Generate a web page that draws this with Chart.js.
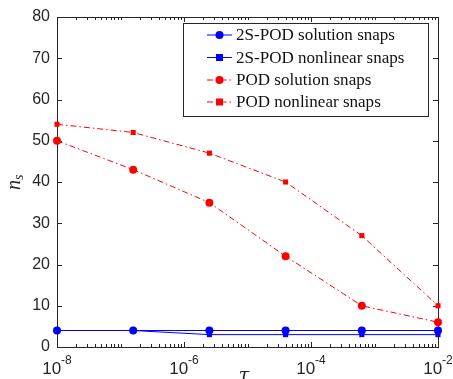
<!DOCTYPE html>
<html><head><meta charset="utf-8">
<script src="https://cdn.jsdelivr.net/npm/chart.js@4"></script>
<style>html,body{margin:0;padding:0;background:#fff}#wrap{width:453px;height:379px}</style>
</head><body><div id="wrap"><canvas id="c" width="453" height="379"></canvas></div>
<script>
const tauValues = [1e-8, 1.585e-7, 2.512e-6, 3.981e-5, 6.31e-4, 1e-2];
const pod2sSolution = [4, 4, 4, 4, 4, 4];
const pod2sNonlinear = [4, 4, 3, 3, 3, 3];
const podSolution = [50, 43, 35, 22, 10, 6];
const podNonlinear = [54, 52, 47, 40, 27, 10];
const seriesLabels = ['2S-POD solution snaps', '2S-POD nonlinear snaps', 'POD solution snaps', 'POD nonlinear snaps'];
const xTickExponents = [-8, -6, -4, -2];
const yTickValues = [0, 10, 20, 30, 40, 50, 60, 70, 80];

const BLUE = '#0000ff', RED = '#ff0000', AX = '#262626';
const DASHDOT = [6, 3, 1.5, 3];
const toPts = arr => arr.map((v, i) => ({x: tauValues[i], y: v}));

const mk = (label, vals, color, shape, dash, r) => ({
  label, data: toPts(vals), borderColor: color, backgroundColor: color,
  borderWidth: 1, borderDash: dash, pointStyle: shape, pointRadius: r,
  pointBorderWidth: 0, tension: 0, clip: false
});

const datasets = [
  mk(seriesLabels[3], podNonlinear, RED, 'rect', DASHDOT, 3.6),
  mk(seriesLabels[2], podSolution, RED, 'circle', DASHDOT, 4),
  mk(seriesLabels[1], pod2sNonlinear, BLUE, 'rect', [], 3.6),
  mk(seriesLabels[0], pod2sSolution, BLUE, 'circle', [], 4)
];
const legendOrder = [3, 2, 1, 0];

const SANS = '"Liberation Sans", Arial, sans-serif';
const SERIF = '"Liberation Serif", "Times New Roman", serif';

const deco = {
  id: 'deco',
  beforeDatasetsDraw(chart) {
    const ctx = chart.ctx, a = chart.chartArea, xs = chart.scales.x, ys = chart.scales.y;
    ctx.save();
    ctx.strokeStyle = AX; ctx.lineWidth = 1;
    ctx.strokeRect(Math.round(a.left) + 0.5, Math.round(a.top) + 0.5, Math.round(a.right - a.left), Math.round(a.bottom - a.top));
    ctx.beginPath();
    for (let k = -8; k <= -2; k++) {
      for (let m = 1; m <= 9; m++) {
        const v = m * Math.pow(10, k);
        if (v > 1.0001e-2) break;
        const px = Math.round(xs.getPixelForValue(v)) + 0.5;
        const len = (m === 1) ? (k % 2 === 0 ? 5 : 3) : 3;
        ctx.moveTo(px, a.bottom); ctx.lineTo(px, a.bottom - len);
        ctx.moveTo(px, a.top); ctx.lineTo(px, a.top + len);
      }
    }
    yTickValues.forEach(v => {
      const py = Math.round(ys.getPixelForValue(v)) + 0.5;
      ctx.moveTo(a.left, py); ctx.lineTo(a.left + 5, py);
      ctx.moveTo(a.right, py); ctx.lineTo(a.right - 5, py);
    });
    ctx.stroke();
    // x tick labels
    ctx.fillStyle = AX;
    xTickExponents.forEach(e => {
      const px = xs.getPixelForValue(Math.pow(10, e));
      ctx.font = '17px ' + SANS;
      const w1 = ctx.measureText('10').width;
      ctx.font = '12px ' + SANS;
      const sup = '-' + Math.abs(e);
      const w2 = ctx.measureText(sup).width;
      const x0 = px - (w1 + w2) / 2;
      ctx.textAlign = 'left'; ctx.textBaseline = 'alphabetic';
      ctx.font = '17px ' + SANS;
      ctx.fillText('10', x0, 374);
      ctx.font = '12px ' + SANS;
      ctx.fillText(sup, x0 + w1, 364);
    });
    // axis titles
    ctx.font = 'italic 19px "DejaVu Serif", "Liberation Serif", serif';
    ctx.textAlign = 'center';
    ctx.fillText('\u03c4', 244, 381);
    ctx.save();
    ctx.translate(20, 184);
    ctx.rotate(-Math.PI / 2);
    ctx.font = 'italic 20px ' + SERIF;
    ctx.textAlign = 'left';
    ctx.fillText('n', -6, 0);
    ctx.font = 'italic 14px ' + SERIF;
    ctx.fillText('s', 4, 3);
    ctx.restore();
    ctx.restore();
  },
  afterDatasetsDraw(chart) {
    const ctx = chart.ctx;
    ctx.save();
    const L = 183, T = 23, R = 428, B = 116;
    ctx.fillStyle = '#fff';
    ctx.fillRect(L, T, R - L, B - T);
    ctx.strokeStyle = AX; ctx.lineWidth = 1;
    ctx.strokeRect(L + 0.5, T + 0.5, R - L, B - T);
    const rows = [35, 57.5, 80, 102];
    ctx.font = '17px ' + SERIF;
    const sx = 159 / ctx.measureText(seriesLabels[0]).width;
    legendOrder.forEach((di, i) => {
      const ds = chart.data.datasets[di];
      const y = rows[i];
      ctx.strokeStyle = ds.borderColor; ctx.lineWidth = 1;
      ctx.setLineDash(ds.borderDash);
      ctx.beginPath(); ctx.moveTo(207, y); ctx.lineTo(232, y); ctx.stroke();
      ctx.setLineDash([]);
      ctx.fillStyle = ds.backgroundColor;
      if (ds.pointStyle === 'circle') { ctx.beginPath(); ctx.arc(219.5, y, 4, 0, Math.PI * 2); ctx.fill(); }
      else { ctx.fillRect(216, y - 3.5, 7, 7); }
      ctx.fillStyle = '#111';
      ctx.textAlign = 'left'; ctx.textBaseline = 'middle';
      ctx.save();
      ctx.translate(236, y + 1);
      ctx.scale(sx, 1);
      ctx.fillText(ds.label, 0, 0);
      ctx.restore();
    });
    ctx.restore();
  }
};

new Chart(document.getElementById('c'), {
  type: 'line',
  data: { datasets },
  options: {
    responsive: false, animation: false, devicePixelRatio: 1,
    layout: { padding: { left: 0, right: 15, top: 17, bottom: 0 } },
    plugins: { legend: { display: false }, tooltip: { enabled: false } },
    scales: {
      x: {
        type: 'logarithmic', min: 1e-8, max: 1e-2,
        grid: { display: false, drawTicks: false }, border: { display: false },
        ticks: { display: false },
        afterFit(s) { s.height = 32; }
      },
      y: {
        min: 0, max: 80,
        grid: { display: false, drawTicks: false }, border: { display: false },
        ticks: { stepSize: 10, padding: 7, color: AX, font: { family: SANS, size: 16 } },
        afterFit(s) { s.width = 57; }
      }
    }
  },
  plugins: [deco]
});
</script></body></html>
